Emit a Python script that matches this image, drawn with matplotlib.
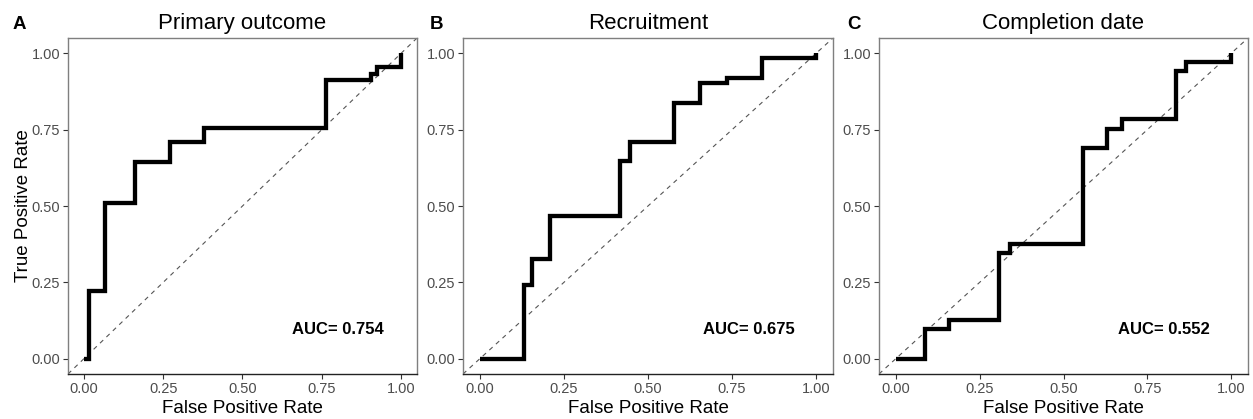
import matplotlib
matplotlib.use("Agg")
import matplotlib.pyplot as plt

plt.rcParams['font.family'] = ['Liberation Sans', 'DejaVu Sans']

# ---- data (ROC corner points: FPR, TPR after each vertical step) ----
titles = ["Primary outcome", "Recruitment", "Completion date"]
panel_labels = ["A", "B", "C"]
auc_labels = ["AUC= 0.754", "AUC= 0.675", "AUC= 0.552"]

fpr_a = [0.0, 0.016, 0.068, 0.162, 0.271, 0.378, 0.762, 0.905, 0.924, 1.0]
tpr_a = [0.0, 0.222, 0.511, 0.644, 0.711, 0.756, 0.911, 0.933, 0.956, 1.0]

fpr_b = [0.0, 0.131, 0.155, 0.2075, 0.417, 0.445, 0.578, 0.656, 0.735, 0.840, 1.0]
tpr_b = [0.0, 0.243, 0.325, 0.467, 0.647, 0.710, 0.838, 0.904, 0.918, 0.983, 1.0]

fpr_c = [0.0, 0.088, 0.160, 0.308, 0.341, 0.558, 0.630, 0.674, 0.834, 0.866, 1.0]
tpr_c = [0.0, 0.096, 0.127, 0.345, 0.374, 0.689, 0.751, 0.784, 0.942, 0.972, 1.0]

fprs = [fpr_a, fpr_b, fpr_c]
tprs = [tpr_a, tpr_b, tpr_c]
ticks = [0.0, 0.25, 0.5, 0.75, 1.0]
tick_labels = ["0.00", "0.25", "0.50", "0.75", "1.00"]

W, H = 1253, 419
fig = plt.figure(figsize=(W / 100, H / 100), dpi=100)

# axes boxes in pixels: (left, right)
boxes = [(68, 417), (463, 833), (879, 1248)]
top_px, bot_px = 38, 374
label_x = [13, 430, 847]

for i in range(3):
    l, r = boxes[i]
    ax = fig.add_axes([l / W, 1 - bot_px / H, (r - l) / W, (bot_px - top_px) / H])
    ax.set_xlim(-0.05, 1.05)
    ax.set_ylim(-0.05, 1.05)
    ax.plot([-0.05, 1.05], [-0.05, 1.05], ls=(0, (4, 4)), color="#555555", lw=0.8, zorder=1)
    ax.plot(fprs[i], tprs[i], drawstyle="steps-post", color="black", lw=3.1,
            solid_joinstyle="miter", solid_capstyle="butt", zorder=2)
    ax.text(0.8, 0.095, auc_labels[i], ha="center", va="center",
            fontsize=12, fontweight="bold", color="black")
    ax.set_xticks(ticks)
    ax.set_xticklabels(tick_labels)
    ax.set_yticks(ticks)
    ax.set_yticklabels(tick_labels)
    ax.tick_params(axis="both", which="major", length=3.5, width=0.8, color="#333333",
                   labelsize=10.5, labelcolor="#4D4D4D", pad=2.2)
    for side in ["top", "right", "left"]:
        ax.spines[side].set_color("#7f7f7f")
        ax.spines[side].set_linewidth(1.0)
    ax.spines["bottom"].set_color("#222222")
    ax.spines["bottom"].set_linewidth(1.0)
    ax.set_title(titles[i], fontsize=16, pad=6.5)
    ax.set_xlabel("False Positive Rate", fontsize=13.5, labelpad=3)
    if i == 0:
        ax.set_ylabel("True Positive Rate", fontsize=13.5, labelpad=-0.5)
    fig.text(label_x[i] / W, 1 - 29 / H, panel_labels[i], fontsize=13.5, fontweight="bold",
             ha="left", va="baseline")

fig.savefig("out.png", dpi=100)
